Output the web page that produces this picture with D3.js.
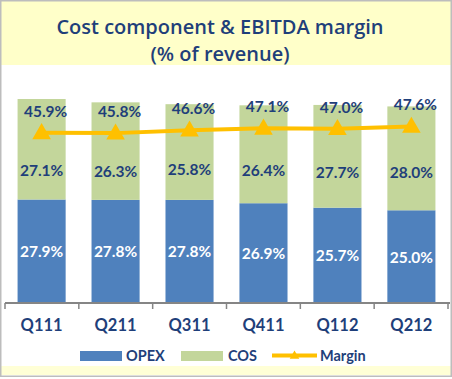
<html>
<head>
<style>
  body { margin: 0; background: #fff; }
  text { font-family: Lato, "Open Sans", sans-serif; }
</style>
</head>
<body>
<div id="chart"></div>
<script src="https://d3js.org/d3.v7.min.js"></script>
<script>
var quarters = ["Q111", "Q211", "Q311", "Q411", "Q112", "Q212"];
var opex = [27.9, 27.8, 27.8, 26.9, 25.7, 25.0];
var cos = [27.1, 26.3, 25.8, 26.4, 27.7, 28.0];
var margin = [45.9, 45.8, 46.6, 47.1, 47.0, 47.6];

var width = 452, height = 379;
var navy = "#1F3F7A";

var svg = d3.select("#chart").append("svg")
    .attr("width", width)
    .attr("height", height);

// title band + bottom band
svg.append("rect").attr("x", 1).attr("y", 1).attr("width", 450).attr("height", 64).attr("fill", "#FFFFC9");
svg.append("rect").attr("x", 1).attr("y", 366).attr("width", 450).attr("height", 9).attr("fill", "#FFFFD6");
svg.append("rect").attr("x", 0.75).attr("y", 0.75).attr("width", 450.5).attr("height", 375.5)
    .attr("fill", "none").attr("stroke", "#BDBDBD").attr("stroke-width", 1.5);

var titleFont = "'Open Sans', sans-serif";
svg.append("text").attr("x", 220).attr("y", 34).attr("text-anchor", "middle")
    .attr("fill", navy).style("font-family", titleFont).style("font-size", "20px").style("font-weight", "600")
    .text("Cost component & EBITDA margin");
svg.append("text").attr("x", 220).attr("y", 61).attr("text-anchor", "middle")
    .attr("fill", navy).style("font-family", titleFont).style("font-size", "20px").style("font-weight", "600")
    .text("(% of revenue)");

var x = d3.scaleBand().domain(quarters).range([5, 448]).paddingInner(0.35).paddingOuter(0.17);
var y = d3.scaleLinear().domain([0, 55]).range([303, 99]);

var g = svg.append("g");

// bars
g.selectAll(".opex").data(quarters).enter().append("rect")
    .attr("x", function(d) { return x(d); })
    .attr("width", x.bandwidth())
    .attr("y", function(d, i) { return y(opex[i]); })
    .attr("height", function(d, i) { return y(0) - y(opex[i]); })
    .attr("fill", "#4F81BD");

g.selectAll(".cos").data(quarters).enter().append("rect")
    .attr("x", function(d) { return x(d); })
    .attr("width", x.bandwidth())
    .attr("y", function(d, i) { return y(opex[i] + cos[i]); })
    .attr("height", function(d, i) { return y(opex[i]) - y(opex[i] + cos[i]); })
    .attr("fill", "#C3D69B");

// axis
var axis = svg.append("g").attr("transform", "translate(0,303)");
axis.append("line").attr("x1", 5).attr("x2", 450).attr("stroke", "#858585").attr("stroke-width", 2);
d3.range(7).forEach(function(k) {
  var tx = 5 + k * (443 / 6);
  axis.append("line").attr("x1", tx).attr("x2", tx).attr("y1", 0).attr("y2", 6)
      .attr("stroke", "#858585").attr("stroke-width", 1.5);
});
svg.selectAll(".cat").data(quarters).enter().append("text")
    .attr("x", function(d) { return x(d) + x.bandwidth() / 2; })
    .attr("y", 331)
    .attr("text-anchor", "middle")
    .attr("fill", navy).style("font-size", "16.5px").style("font-weight", "bold")
    .text(function(d) { return d; });

// margin line
var cx = function(d) { return x(d) + x.bandwidth() / 2; };
var line = d3.line().x(function(d, i) { return cx(quarters[i]); }).y(function(d) { return y(d); });
svg.append("path").datum(margin).attr("d", line)
    .attr("fill", "none").attr("stroke", "#FFC000").attr("stroke-width", 4);
var tri = d3.symbol().type(d3.symbolTriangle).size(150);
svg.selectAll(".tri").data(margin).enter().append("path")
    .attr("d", tri)
    .attr("transform", function(d, i) { return "translate(" + cx(quarters[i]) + "," + (y(d) + 1) + ")"; })
    .attr("fill", "#FFC000");

// labels
svg.selectAll(".ml").data(margin).enter().append("text")
    .attr("x", function(d, i) { return cx(quarters[i]) + 4; })
    .attr("y", function(d) { return y(d) - 16; })
    .attr("text-anchor", "middle").attr("fill", navy)
    .style("font-size", "15.5px").style("font-weight", "bold")
    .text(function(d) { return d.toFixed(1) + "%"; });

svg.selectAll(".cl").data(cos).enter().append("text")
    .attr("x", function(d, i) { return cx(quarters[i]); })
    .attr("y", function(d, i) { return (y(margin[i]) + y(opex[i])) / 2 + 10; })
    .attr("text-anchor", "middle").attr("fill", navy)
    .style("font-size", "15.5px").style("font-weight", "bold")
    .text(function(d) { return d.toFixed(1) + "%"; });

svg.selectAll(".ol").data(opex).enter().append("text")
    .attr("x", function(d, i) { return cx(quarters[i]); })
    .attr("y", function(d) { return (y(d) + y(0)) / 2 + 6; })
    .attr("text-anchor", "middle").attr("fill", "#fff")
    .style("font-size", "15.5px").style("font-weight", "bold")
    .text(function(d) { return d.toFixed(1) + "%"; });

// legend
var lg = svg.append("g");
var lf = "14.5px";
lg.append("rect").attr("x", 80).attr("y", 351).attr("width", 42).attr("height", 10).attr("fill", "#4F81BD");
lg.append("text").attr("x", 126).attr("y", 361).attr("fill", navy).style("font-size", lf).style("font-weight", "bold").text("OPEX");
lg.append("rect").attr("x", 181).attr("y", 351).attr("width", 42).attr("height", 10).attr("fill", "#C3D69B");
lg.append("text").attr("x", 228).attr("y", 361).attr("fill", navy).style("font-size", lf).style("font-weight", "bold").text("COS");
lg.append("line").attr("x1", 272).attr("x2", 317).attr("y1", 355.5).attr("y2", 355.5).attr("stroke", "#FFC000").attr("stroke-width", 4);
lg.append("path").attr("d", d3.symbol().type(d3.symbolTriangle).size(40)).attr("transform", "translate(294.5,356)").attr("fill", "#FFC000");
lg.append("text").attr("x", 320).attr("y", 361).attr("fill", navy).style("font-size", lf).style("font-weight", "bold").text("Margin");
</script>
</body>
</html>
